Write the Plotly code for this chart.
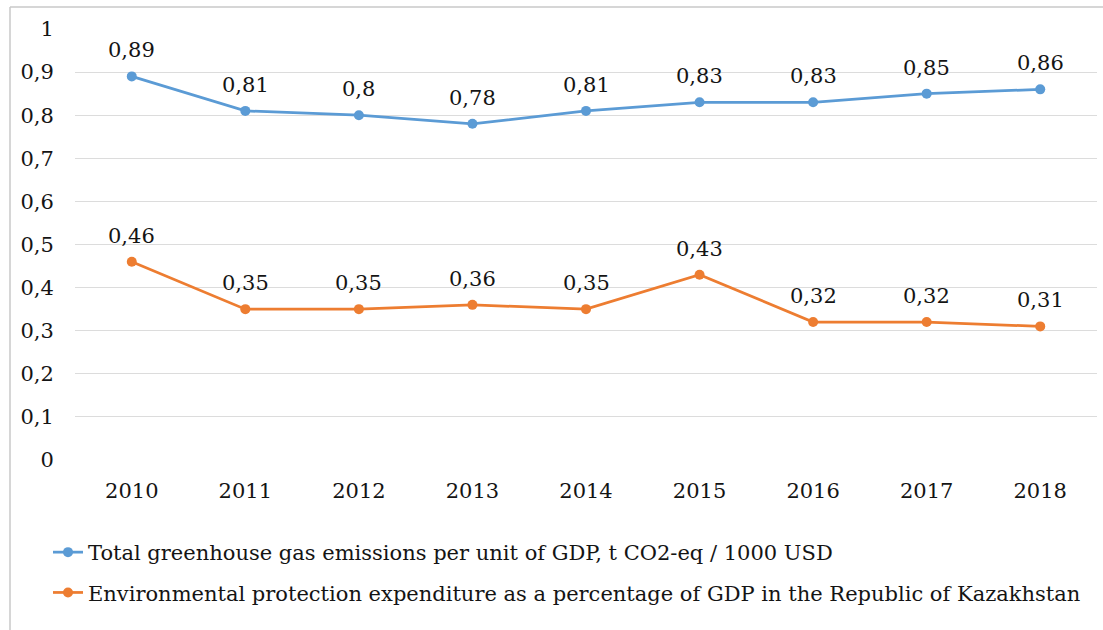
import plotly.graph_objects as go

years = ["2010", "2011", "2012", "2013", "2014", "2015", "2016", "2017", "2018"]
ghg = [0.89, 0.81, 0.80, 0.78, 0.81, 0.83, 0.83, 0.85, 0.86]
env = [0.46, 0.35, 0.35, 0.36, 0.35, 0.43, 0.32, 0.32, 0.31]
ghg_name = "Total greenhouse gas emissions per unit of GDP, t CO2-eq / 1000 USD"
env_name = "Environmental protection expenditure as a percentage of GDP in the Republic of Kazakhstan"
y_tickvals = [0, 0.1, 0.2, 0.3, 0.4, 0.5, 0.6, 0.7, 0.8, 0.9, 1.0]
y_ticktext = ["0", "0,1", "0,2", "0,3", "0,4", "0,5", "0,6", "0,7", "0,8", "0,9", "1"]

BLUE = "#5B9BD5"
ORANGE = "#ED7D31"
FONT = "DejaVu Serif"
TXT = "#141414"
FS = 21

def lab(v):
    return f"{v:g}".replace(".", ",")

fig = go.Figure()
fig.add_trace(go.Scatter(x=years, y=ghg, name=ghg_name, mode="lines+markers",
                         line=dict(color=BLUE, width=2.75), marker=dict(size=10, color=BLUE),
                         legendgroup="a"))
fig.add_trace(go.Scatter(x=years, y=env, name=env_name, mode="lines+markers",
                         line=dict(color=ORANGE, width=2.75), marker=dict(size=10, color=ORANGE),
                         legendgroup="b"))

for series in (ghg, env):
    for i, v in enumerate(series):
        fig.add_annotation(x=i, y=v, xref="x", yref="y", text=lab(v), showarrow=False,
                           yanchor="bottom", yshift=12,
                           font=dict(family=FONT, size=FS, color=TXT))

L, R, T, B = 75, 6, 29, 170
W, H = 1103, 630
pw = W - L - R
ph = H - T - B
bx = (10 - L) / pw
by = 1 + (T - 7) / ph
fig.add_shape(type="line", xref="paper", yref="paper", x0=bx, x1=1 + R / pw, y0=by, y1=by,
              line=dict(color="#C8C8C8", width=1.5))
fig.add_shape(type="line", xref="paper", yref="paper", x0=bx, x1=bx, y0=by, y1=-(B + 5) / ph,
              line=dict(color="#C8C8C8", width=1.5))

fig.update_layout(
    width=W, height=H,
    margin=dict(l=L, r=R, t=T, b=B),
    paper_bgcolor="white", plot_bgcolor="white",
    font=dict(family=FONT, size=FS, color=TXT),
    showlegend=True,
    legend=dict(orientation="v", x=(48 - L) / pw, xanchor="left", y=-(72) / ph, yanchor="top",
                traceorder="grouped", tracegroupgap=10, itemwidth=30,
                font=dict(family=FONT, size=FS, color=TXT),
                bgcolor="rgba(0,0,0,0)"),
    xaxis=dict(type="category", range=[-0.5, 8.5], showgrid=False, showline=False, zeroline=False,
               ticks="outside", ticklen=12, tickcolor="rgba(0,0,0,0)",
               tickfont=dict(family=FONT, size=FS, color=TXT)),
    yaxis=dict(range=[0, 1], tickvals=y_tickvals, ticktext=y_ticktext, showgrid=True,
               gridcolor="#DCDCDC", gridwidth=1, zeroline=False, showline=False,
               ticks="outside", ticklen=16, tickcolor="rgba(0,0,0,0)",
               tickfont=dict(family=FONT, size=FS, color=TXT)),
)

fig.write_html("out.html")
